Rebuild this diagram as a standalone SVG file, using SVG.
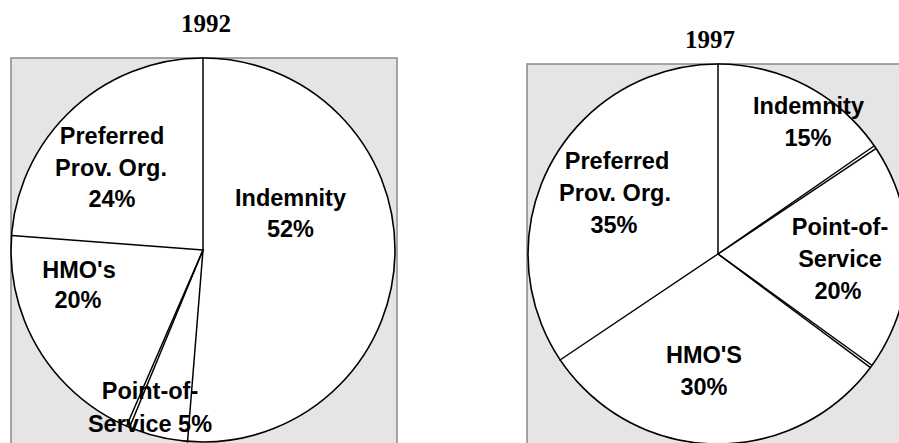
<svg xmlns="http://www.w3.org/2000/svg" width="899" height="443" viewBox="0 0 899 443">
<style>
.bg{fill:#e5e5e5;stroke:#888888;stroke-width:1.5}
.pie{fill:#ffffff;stroke:#000000;stroke-width:1.6}
.ln{stroke:#000000;stroke-width:1.5;fill:none;stroke-linecap:round}
.t{font-family:"Liberation Serif","Times New Roman",serif;font-weight:bold;font-size:25px;fill:#000;text-anchor:middle}
.l{font-family:"Liberation Sans",Arial,sans-serif;font-weight:bold;font-size:23.5px;fill:#000;text-anchor:middle}
</style>
<rect x="0" y="0" width="899" height="443" fill="#ffffff"/>
<g id="chart-1992">
  <text class="t" x="206" y="32">1992</text>
  <rect class="bg" x="11" y="58" width="386" height="400"/>
  <circle class="pie" cx="203" cy="250" r="192"/>
  <g id="connectors-1992">
    <line class="ln" x1="203" y1="250" x2="203" y2="58"/>
    <line class="ln" x1="203" y1="250" x2="187.5" y2="442"/>
    <line class="ln" x1="203" y1="250" x2="126.5" y2="426"/>
    <line class="ln" x1="203" y1="250" x2="129.5" y2="427.5"/>
    <line class="ln" x1="203" y1="250" x2="11.5" y2="235.5"/>
  </g>
  <g id="ppo-1992">
    <text class="l" x="112" y="144">Preferred</text>
    <text class="l" x="111" y="176">Prov. Org.</text>
    <text class="l" x="112" y="207">24%</text>
  </g>
  <g id="indemnity-1992">
    <text class="l" x="290.5" y="206">Indemnity</text>
    <text class="l" x="290.5" y="237">52%</text>
  </g>
  <g id="hmo-1992">
    <text class="l" x="79" y="278">HMO's</text>
    <text class="l" x="78" y="308">20%</text>
  </g>
  <g id="pos-1992">
    <text class="l" x="150" y="399">Point-of-</text>
    <text class="l" x="150" y="432">Service 5%</text>
  </g>
</g>
<g id="chart-1997">
  <text class="t" x="710" y="48">1997</text>
  <rect class="bg" x="527" y="64" width="400" height="400"/>
  <circle class="pie" cx="718" cy="254" r="190"/>
  <g id="connectors-1997">
    <line class="ln" x1="718" y1="254" x2="718" y2="64"/>
    <line class="ln" x1="718" y1="254" x2="874" y2="146"/>
    <line class="ln" x1="718" y1="254" x2="875.8" y2="148.6"/>
    <line class="ln" x1="718" y1="254" x2="871.5" y2="365"/>
    <line class="ln" x1="718" y1="254" x2="869.8" y2="367.2"/>
    <line class="ln" x1="718" y1="254" x2="560" y2="360"/>
  </g>
  <g id="indemnity-1997">
    <text class="l" x="808.5" y="114">Indemnity</text>
    <text class="l" x="808" y="146">15%</text>
  </g>
  <g id="ppo-1997">
    <text class="l" x="617" y="169">Preferred</text>
    <text class="l" x="615" y="201">Prov. Org.</text>
    <text class="l" x="614" y="233">35%</text>
  </g>
  <g id="pos-1997">
    <text class="l" x="840" y="235">Point-of-</text>
    <text class="l" x="840" y="267">Service</text>
    <text class="l" x="838" y="299">20%</text>
  </g>
  <g id="hmo-1997">
    <text class="l" x="704" y="363">HMO'S</text>
    <text class="l" x="704" y="395">30%</text>
  </g>
</g>
</svg>
